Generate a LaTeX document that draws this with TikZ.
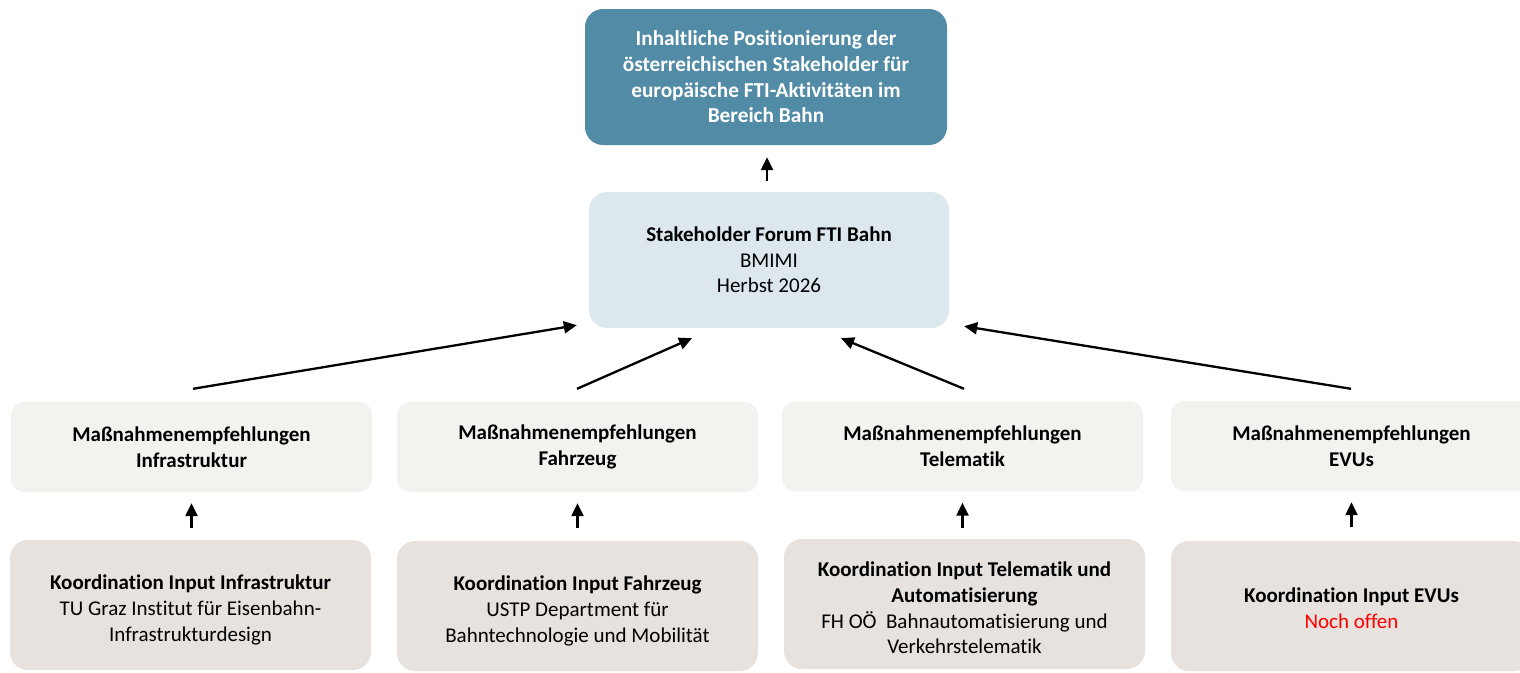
\documentclass[tikz,border=0pt]{standalone}
\usepackage{fontspec}
\setmainfont[Ligatures=NoCommon]{Carlito}
\usetikzlibrary{arrows.meta,calc}
\definecolor{topblue}{HTML}{528BA6}
\definecolor{forumblue}{HTML}{DDE7EE}
\definecolor{recgrey}{HTML}{F4F2EF}
\definecolor{inputgrey}{HTML}{E7E2DE}
\definecolor{openred}{HTML}{FF0000}
\begin{document}
\begin{tikzpicture}[x=1pt,y=-1pt,
  box/.style={rounded corners=18pt,align=center,inner sep=0pt,
    font=\fontsize{21}{25.5}\selectfont,text=black},
  topbox/.style={box,fill=topblue,text=white,font=\fontsize{21.3}{25.7}\selectfont\bfseries,
    minimum width=362pt,minimum height=136pt},
  forumbox/.style={box,fill=forumblue,minimum width=360pt,minimum height=136pt},
  recbox/.style={box,fill=recgrey,rounded corners=13pt,minimum width=361pt,minimum height=90pt,
    font=\fontsize{21}{26}\selectfont\bfseries},
  inbox/.style={box,fill=inputgrey,minimum width=361pt,minimum height=130pt},
  intext/.style={align=center,inner sep=0pt,font=\fontsize{21}{25.7}\selectfont,text=black},
  arr/.style={line width=2.3pt,-{Triangle[length=13pt,width=12pt]}},
  short/.style={line width=2.4pt,-{Triangle[length=13pt,width=12pt]}}]
\useasboundingbox (0,0) rectangle (1520,672);

% top goal and stakeholder forum
\node[topbox] (goal) at (766,77) {Inhaltliche Positionierung der\\österreichischen Stakeholder für\\europäische FTI-Aktivitäten im\\Bereich Bahn};
\node[forumbox] (forum) at (769,260) {\textbf{Stakeholder Forum FTI Bahn}\\BMIMI\\Herbst 2026};

% recommendations row
\node[recbox] (ri) at (191.5,447) {Maßnahmenempfehlungen\\Infrastruktur};
\node[recbox] (rf) at (577.5,447) {Maßnahmenempfehlungen\\Fahrzeug};
\node[recbox] (rt) at (962.5,446.5) {Maßnahmenempfehlungen\\Telematik};
\node[recbox] (re) at (1351.5,446) {Maßnahmenempfehlungen\\EVUs};

% input coordination row: boxes, then their texts
\node[inbox] (ii) at (190.5,605) {};
\node[inbox] (if) at (577.5,606) {};
\node[inbox] (it) at (964.5,604) {};
\node[inbox] (ie) at (1351.5,606) {};
\node[intext] (ii-txt) at ($(ii)+(0,5)$) {\textbf{Koordination Input Infrastruktur}\\TU Graz Institut für Eisenbahn-\\Infrastrukturdesign};
\node[intext] (if-txt) at ($(if)+(0,5)$) {\textbf{Koordination Input Fahrzeug}\\USTP Department für\\Bahntechnologie und Mobilität};
\node[intext] (it-txt) at ($(it)+(0,4)$) {\textbf{Koordination Input Telematik und}\\\textbf{Automatisierung}\\FH OÖ\ \ Bahnautomatisierung und\\Verkehrstelematik};
\node[intext] (ie-txt) at ($(ie)+(0,2)$) {\textbf{Koordination Input EVUs}\\\textcolor{openred}{Noch offen}};

% forum to goal
\coordinate (fg0) at ($(forum.north)+(-2,-11)$);
\coordinate (fg1) at ($(goal.south)+(1,12)$);
\draw[short] (fg0) -- (fg1);

% recommendations to forum
\coordinate (s1) at ($(ri.north)+(1.5,-13)$);
\coordinate (e1) at ($(forum.south west)+(-12,-3)$);
\coordinate (s2) at ($(rf.north)+(-0.5,-13)$);
\coordinate (e2) at ($(forum.south)+(-77,10)$);
\coordinate (s3) at ($(rt.north)+(1.5,-12.5)$);
\coordinate (e3) at ($(forum.south)+(72,10)$);
\coordinate (s4) at ($(re.north)+(-0.5,-12)$);
\coordinate (e4) at ($(forum.south east)+(15,-2)$);
\draw[arr] (s1) -- (e1);
\draw[arr] (s2) -- (e2);
\draw[arr] (s3) -- (e3);
\draw[arr] (s4) -- (e4);

% inputs to recommendations
\foreach \a/\b in {ii/ri,if/rf,it/rt,ie/re}{
  \coordinate (\a0) at ($(\b.south)+(0,36)$);
  \coordinate (\a1) at ($(\b.south)+(0,11)$);
  \draw[short] (\a0) -- (\a1);
}
\end{tikzpicture}
\end{document}
